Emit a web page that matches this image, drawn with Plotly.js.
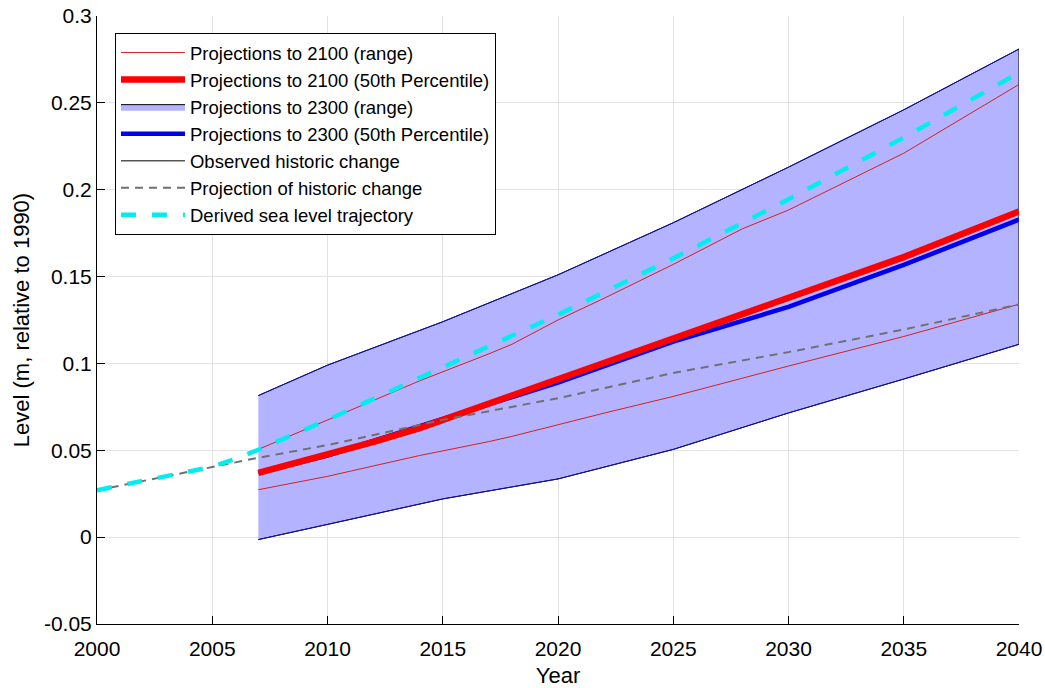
<!DOCTYPE html>
<html>
<head>
<meta charset="utf-8">
<script src="https://cdn.plot.ly/plotly-3.0.1.min.js"></script>
<style>html,body{margin:0;padding:0;background:#fff}#chart{width:1045px;height:688px}</style>
</head>
<body>
<div id="chart"></div>
<script>
// Years for projections (start 2007)
const projYears = [2007, 2010, 2015, 2020, 2025, 2030, 2035, 2040];
// Projections to 2300 (range) envelope
const range2300Upper = [0.0815, 0.099, 0.124, 0.151, 0.181, 0.213, 0.246, 0.281];
const range2300Lower = [-0.0014, 0.0073, 0.022, 0.0335, 0.0505, 0.0715, 0.091, 0.111];
// Projections to 2300 (50th percentile)
const median2300 = [0.037, 0.047, 0.068, 0.089, 0.1125, 0.1325, 0.1567, 0.1828];
// Projections to 2100 (range)
const range2100Years = [2007, 2010, 2012, 2014, 2017, 2018, 2020, 2022, 2025, 2028, 2030, 2035, 2040];
const range2100Upper = [0.0505, 0.0676, 0.079, 0.090, 0.1055, 0.111, 0.125, 0.1375, 0.157, 0.1775, 0.1883, 0.221, 0.2606];
const range2100Lower = [0.0273, 0.035, 0.041, 0.047, 0.055, 0.058, 0.0647, 0.0714, 0.081, 0.0915, 0.0985, 0.1155, 0.1341];
// Projections to 2100 (50th percentile)
const median2100 = [0.037, 0.0475, 0.0548, 0.0628, 0.0768, 0.081, 0.0906, 0.0996, 0.1143, 0.1285, 0.1375, 0.1612, 0.1875];
// Observed historic change (no data within the displayed window)
const obsYears = [2000];
const obsLevel = [0.027];
// Projection of historic change
const histYears = [2000, 2005, 2007, 2010, 2015, 2020, 2025, 2030, 2035, 2040];
const histLevel = [0.027, 0.0402, 0.0457, 0.053, 0.0675, 0.080, 0.0945, 0.1065, 0.1195, 0.134];
// Derived sea level trajectory
const trajYears = [2000, 2003, 2005, 2006, 2007, 2010, 2015, 2020, 2025, 2030, 2035, 2040];
const trajLevel = [0.027, 0.035, 0.0405, 0.045, 0.0503, 0.0675, 0.0975, 0.128, 0.1605, 0.1945, 0.230, 0.2673];
// Axis ticks
const xTicks = [2000, 2005, 2010, 2015, 2020, 2025, 2030, 2035, 2040];
const yTicks = [-0.05, 0, 0.05, 0.1, 0.15, 0.2, 0.25, 0.3];
const yTickText = ['-0.05', '0', '0.05', '0.1', '0.15', '0.2', '0.25', '0.3'];

const polyX = projYears.concat(projYears.slice().reverse());
const polyY = range2300Upper.concat(range2300Lower.slice().reverse());

const traces = [
  {x: polyX, y: polyY, mode: 'lines', fill: 'toself', fillcolor: '#b3b3ff',
   line: {color: '#000', width: 1}, name: 'Projections to 2300 (range)', legendrank: 3, legendgroup: 'g3', hoverinfo: 'skip'},
  {x: projYears, y: range2300Upper, mode: 'lines', line: {color: '#1010b0', width: 1}, showlegend: false, legendgroup: 'g3'},
  {x: projYears, y: range2300Lower, mode: 'lines', line: {color: '#1010b0', width: 1}, showlegend: false, legendgroup: 'g3'},
  {x: range2100Years, y: range2100Upper, mode: 'lines', line: {color: '#d42020', width: 1},
   name: 'Projections to 2100 (range)', legendrank: 1, legendgroup: 'g1'},
  {x: range2100Years, y: range2100Lower, mode: 'lines', line: {color: '#d42020', width: 1}, showlegend: false, legendgroup: 'g1'},
  {x: projYears, y: median2300, mode: 'lines', line: {color: '#0000ee', width: 4.5},
   name: 'Projections to 2300 (50th Percentile)', legendrank: 4, legendgroup: 'g4'},
  {x: range2100Years, y: median2100, mode: 'lines', line: {color: '#ff0000', width: 6.5},
   name: 'Projections to 2100 (50th Percentile)', legendrank: 2, legendgroup: 'g2'},
  {x: obsYears, y: obsLevel, mode: 'lines', line: {color: '#555555', width: 1.5},
   name: 'Observed historic change', legendrank: 5, legendgroup: 'g5'},
  {x: histYears, y: histLevel, mode: 'lines', line: {color: '#707070', width: 2, dash: '8px,6px'},
   name: 'Projection of historic change', legendrank: 6, legendgroup: 'g6'},
  {x: trajYears, y: trajLevel, mode: 'lines', line: {color: '#00eeee', width: 4.5, dash: '15px,16px'},
   name: 'Derived sea level trajectory', legendrank: 7, legendgroup: 'g7'}
];

const fontFam = '"Liberation Sans", Arial, Helvetica, sans-serif';
const layout = {
  width: 1045, height: 688,
  margin: {l: 97, r: 26, t: 16, b: 64},
  paper_bgcolor: '#fff', plot_bgcolor: '#fff',
  font: {family: fontFam, color: '#000', size: 21},
  showlegend: true,
  legend: {
    x: 0.0195, y: 0.972, xanchor: 'left', yanchor: 'top',
    bgcolor: '#fff', bordercolor: '#000', borderwidth: 1,
    font: {family: fontFam, size: 18.5, color: '#000'},
    traceorder: 'grouped', tracegroupgap: 0, itemwidth: 64
  },
  xaxis: {
    range: [2000, 2040], tickvals: xTicks, ticktext: xTicks.map(String),
    showgrid: true, gridcolor: '#e2e2e2', gridwidth: 1,
    showline: true, linecolor: '#000', linewidth: 1, mirror: false,
    ticks: 'inside', ticklen: 8, tickcolor: '#000', zeroline: false,
    tickfont: {size: 21}, ticklabelstandoff: 6,
    title: {text: 'Year', font: {size: 22}, standoff: 8}
  },
  yaxis: {
    range: [-0.05, 0.3], tickvals: yTicks, ticktext: yTickText,
    showgrid: true, gridcolor: '#e2e2e2', gridwidth: 1,
    showline: true, linecolor: '#000', linewidth: 1, mirror: false,
    ticks: 'inside', ticklen: 8, tickcolor: '#000', zeroline: false,
    tickfont: {size: 21},
    title: {text: 'Level (m, relative to 1990)', font: {size: 22}, standoff: 8}
  }
};

Plotly.newPlot('chart', traces, layout, {staticPlot: true, displayModeBar: false});
</script>
</body>
</html>
